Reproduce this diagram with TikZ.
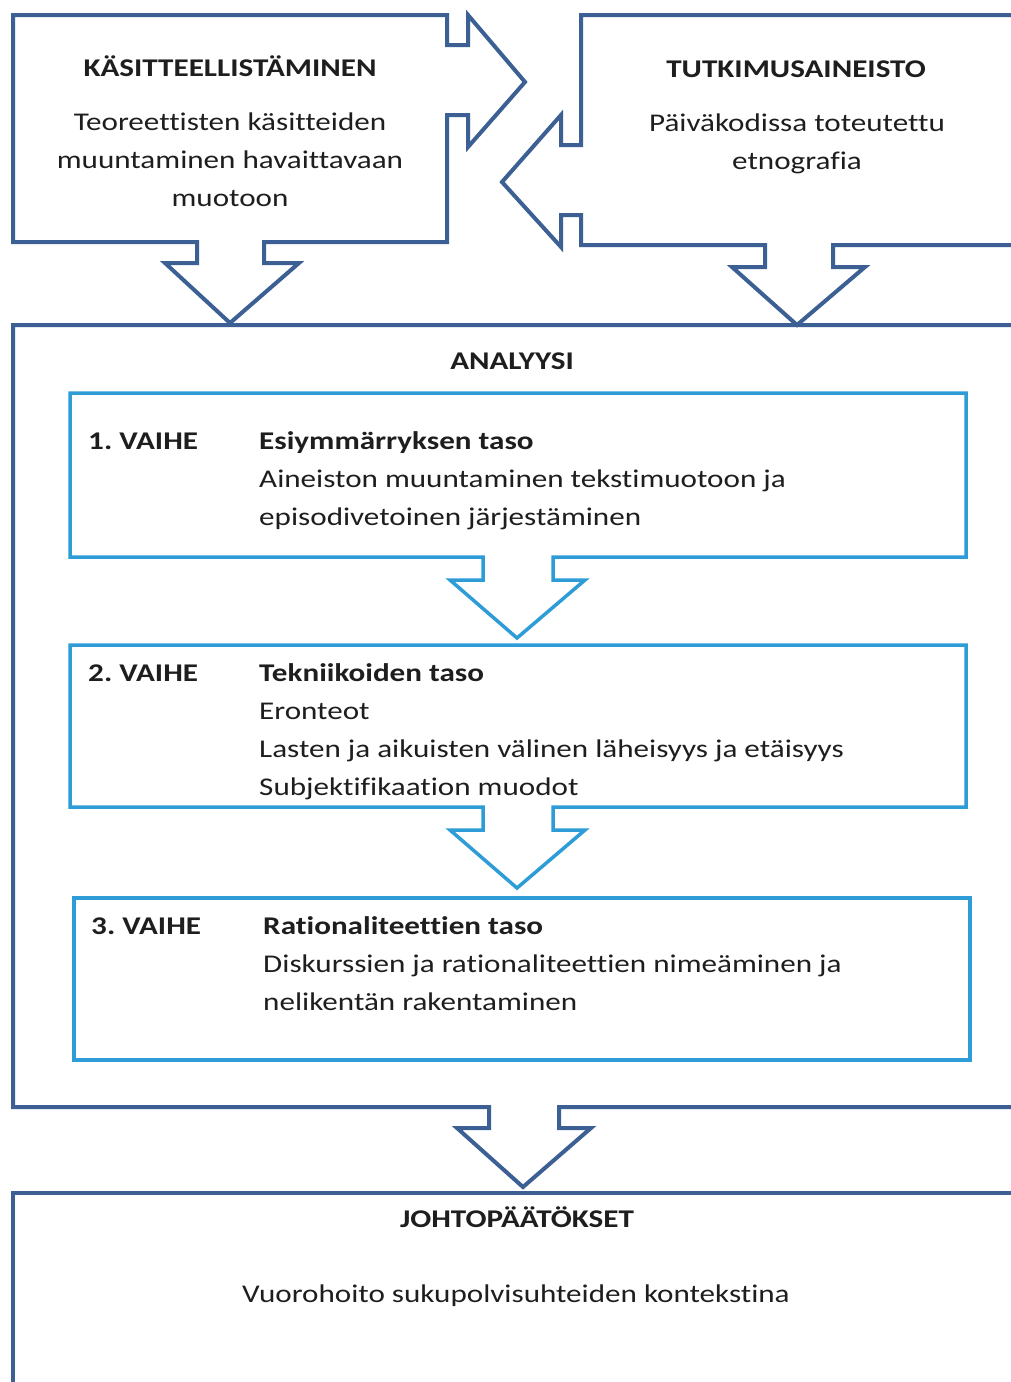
\documentclass[tikz,border=0pt]{standalone}
\usepackage{fontspec}
\setmainfont{Carlito}[Ligatures=NoCommon]
\definecolor{darkframe}{HTML}{3C6093}
\definecolor{lightframe}{HTML}{2E9CD7}
\definecolor{inktext}{HTML}{1E1E1E}

\begin{document}
\begin{tikzpicture}[x=1pt,y=-1pt,
	outer/.style={draw=darkframe,line width=4pt},
	inner/.style={draw=lightframe,line width=3.5pt},
	txt/.style={inner sep=0pt,text=inktext,xscale=1.22,transform shape,font=\fontsize{25.5}{30}\selectfont},
	head/.style={txt,font=\fontsize{25.5}{30}\selectfont\bfseries}]
			\fill[white] (0,0) rectangle (1010,1382);
			\useasboundingbox (0,0) rectangle (1010,1382);
			% top boxes with their arrows
			\draw[outer] (13,15) -- (447,15) -- (447,45) -- (468,45) -- (468,15) -- (525,82) -- (468,147) -- (468,115) -- (447,115) -- (447,242) -- (264,242) -- (264,263) -- (299,263) -- (230,323) -- (165,263) -- (197,263) -- (197,242) -- (13,242) -- cycle;
			\draw[outer] (1020,15) -- (581,15) -- (581,145) -- (561,145) -- (561,115) -- (502,182) -- (561,247) -- (561,215) -- (581,215) -- (581,245) -- (765,245) -- (765,267) -- (732,267) -- (797,325) -- (865,267) -- (833,267) -- (833,245) -- (1020,245);
			% analysis and conclusions
			\draw[outer] (1020,325) -- (13,325) -- (13,1107) -- (489,1107) -- (489,1128) -- (457,1128) -- (523,1187) -- (591,1128) -- (559,1128) -- (559,1107) -- (1020,1107);
			\draw[outer] (1020,1193) -- (13,1193) -- (13,1395);
			% phases
			\foreach \y/\h in {393/164,645/162}{
				\draw[inner] (483,\y+\h) -- (70,\y+\h) -- (70,\y) -- (966,\y) -- (966,\y+\h) -- (553,\y+\h) -- (553,\y+\h+23) -- (585,\y+\h+23) -- (517,\y+\h+81) -- (450,\y+\h+23) -- (483,\y+\h+23) -- cycle;
			}
			\draw[inner] (74,898) rectangle (970,1060);
			% texts
			\node[head,anchor=base] (kasite) at (230,76) {KÄSITTEELLISTÄMINEN};
			\foreach \t [count=\i] in {Teoreettisten käsitteiden,muuntaminen havaittavaan,muotoon}
				\node[txt,anchor=base] (kasite\i) at (230,{92+38*\i}) {\t};
			\node[head,anchor=base] (aineisto) at (796,77) {TUTKIMUSAINEISTO};
			\foreach \t [count=\i] in {Päiväkodissa toteutettu,etnografia}
				\node[txt,anchor=base] (aineisto\i) at (797,{93+38*\i}) {\t};
			\node[head,anchor=base] (analyysi) at (512,369) {ANALYYSI};
			\node[head,anchor=base west] (vaihe1) at (88,449) {1.\ VAIHE};
			\node[head,anchor=base west] (taso1) at (259,449) {Esiymmärryksen taso};
			\foreach \t [count=\i] in {Aineiston muuntaminen tekstimuotoon ja,episodivetoinen järjestäminen}
				\node[txt,anchor=base west] (kuvaus1\i) at (259,{449+38*\i}) {\t};
			\node[head,anchor=base west] (vaihe2) at (88,681) {2.\ VAIHE};
			\node[head,anchor=base west] (taso2) at (259,681) {Tekniikoiden taso};
			\foreach \t [count=\i] in {Eronteot,Lasten ja aikuisten välinen läheisyys ja etäisyys,Subjektifikaation muodot}
				\node[txt,anchor=base west] (kuvaus2\i) at (259,{681+38*\i}) {\t};
			\node[head,anchor=base west] (vaihe3) at (91,934) {3.\ VAIHE};
			\node[head,anchor=base west] (taso3) at (263,934) {Rationaliteettien taso};
			\foreach \t [count=\i] in {Diskurssien ja rationaliteettien nimeäminen ja,nelikentän rakentaminen}
				\node[txt,anchor=base west] (kuvaus3\i) at (263,{934+38*\i}) {\t};
			\node[head,anchor=base] (johto) at (517,1227) {JOHTOPÄÄTÖKSET};
			\node[txt,anchor=base] (vuoro) at (516,1302) {Vuorohoito sukupolvisuhteiden kontekstina};
		\end{tikzpicture}
\end{document}
